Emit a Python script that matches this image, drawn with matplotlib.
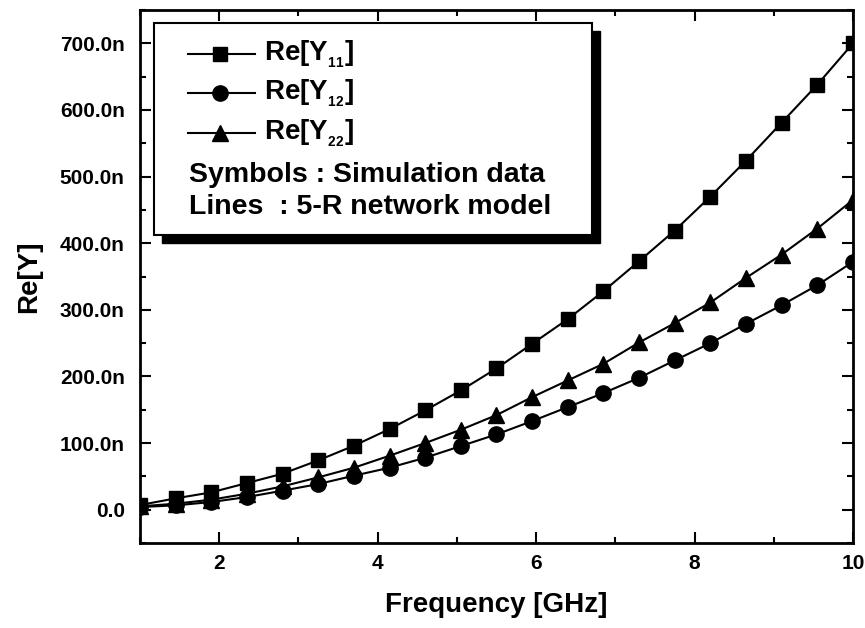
import matplotlib
matplotlib.use('Agg')
from matplotlib import pyplot as plt
from matplotlib.patches import Rectangle
from matplotlib.ticker import MultipleLocator, FuncFormatter

plt.rcParams['font.family'] = ['Liberation Sans', 'DejaVu Sans']
plt.rcParams['font.weight'] = 'bold'
plt.rcParams['mathtext.fontset'] = 'custom'
plt.rcParams['mathtext.rm'] = 'Liberation Sans:bold'
plt.rcParams['mathtext.bf'] = 'Liberation Sans:bold'
plt.rcParams['mathtext.it'] = 'Liberation Sans:bold'

# frequency sweep (GHz)
freq = [1.00, 1.45, 1.90, 2.35, 2.80, 3.25, 3.70, 4.15, 4.60, 5.05, 5.50,
        5.95, 6.40, 6.85, 7.30, 7.75, 8.20, 8.65, 9.10, 9.55, 10.00]

# Re[Y] in nS
re_y11 = [7, 17, 26, 40, 54, 74, 96, 121, 149, 179, 212,
          249, 286, 328, 373, 419, 470, 524, 581, 638, 700]
re_y12 = [4, 6.5, 11.5, 19, 28.5, 38.5, 51, 63, 78, 95.5, 113,
          133, 154, 175, 198, 224, 250, 279, 307, 337, 372]
re_y22 = [5, 9, 15, 24, 35, 48.5, 63, 81, 100, 120, 142,
          169, 194, 219, 251, 280, 311, 348, 383, 422, 465]

labels = [r'Re[Y$_{_{11}}$]', r'Re[Y$_{_{12}}$]', r'Re[Y$_{_{22}}$]']
markers = ['s', 'o', '^']
msize = {'s': 10, 'o': 11, '^': 12}

fig = plt.figure(figsize=(8.65, 6.28), dpi=100)
ax = fig.add_axes([140 / 865, 85 / 628, 713 / 865, 533 / 628])

for y, m in zip([re_y11, re_y12, re_y22], markers):
    ax.plot(freq, y, color='black', lw=1.5, zorder=2)
    ax.plot(freq, y, ls='none', marker=m, ms=msize[m], color='black', zorder=3)

ax.set_xlim(1, 10)
ax.set_ylim(-50, 750)
ax.xaxis.set_major_locator(MultipleLocator(2))
ax.xaxis.set_minor_locator(MultipleLocator(1))
ax.yaxis.set_major_locator(MultipleLocator(100))
ax.yaxis.set_minor_locator(MultipleLocator(50))
ax.yaxis.set_major_formatter(FuncFormatter(
    lambda v, p: '0.0' if abs(v) < 1e-9 else '%.1fn' % v))

ax.tick_params(which='both', direction='in', top=True, right=True,
               width=1.5, labelsize=15)
ax.tick_params(which='major', length=8)
ax.tick_params(which='minor', length=4.5)
ax.tick_params(axis='y', which='major', pad=11)
ax.tick_params(axis='x', which='major', pad=8)
for s in ax.spines.values():
    s.set_linewidth(2)

ax.set_xlabel('Frequency [GHz]', fontsize=20, fontweight='bold')
ax.set_ylabel('Re[Y]', fontsize=20, fontweight='bold')
ax.xaxis.set_label_coords(0.5, -0.092)
ax.yaxis.set_label_coords(-0.137, 0.5)

# legend box with solid drop shadow
bx, by, bw, bh = 0.0196, 0.578, 0.614, 0.398
ax.add_patch(Rectangle((bx + 0.0112, by - 0.015), bw, bh, transform=ax.transAxes,
                       facecolor='black', edgecolor='black', zorder=4))
ax.add_patch(Rectangle((bx, by), bw, bh, transform=ax.transAxes,
                       facecolor='white', edgecolor='black', lw=1.5, zorder=5))

rows = [0.9175, 0.8443, 0.7692]
for lab, m, yy in zip(labels, markers, rows):
    ax.plot([0.0673, 0.1613], [yy, yy], color='black', lw=1.5,
            transform=ax.transAxes, zorder=6)
    ax.plot([0.1122], [yy], marker=m, ms=msize[m], color='black',
            transform=ax.transAxes, zorder=6)
    ax.text(0.1739, yy, lab, transform=ax.transAxes, fontsize=20,
            fontweight='bold', va='center', zorder=6)

ax.text(0.0687, 0.6904, 'Symbols : Simulation data', transform=ax.transAxes,
        fontsize=20.5, fontweight='bold', va='center', zorder=6)
ax.text(0.0687, 0.6304, 'Lines  : 5-R network model', transform=ax.transAxes,
        fontsize=20.5, fontweight='bold', va='center', zorder=6)

fig.savefig('out.png', dpi=100)
